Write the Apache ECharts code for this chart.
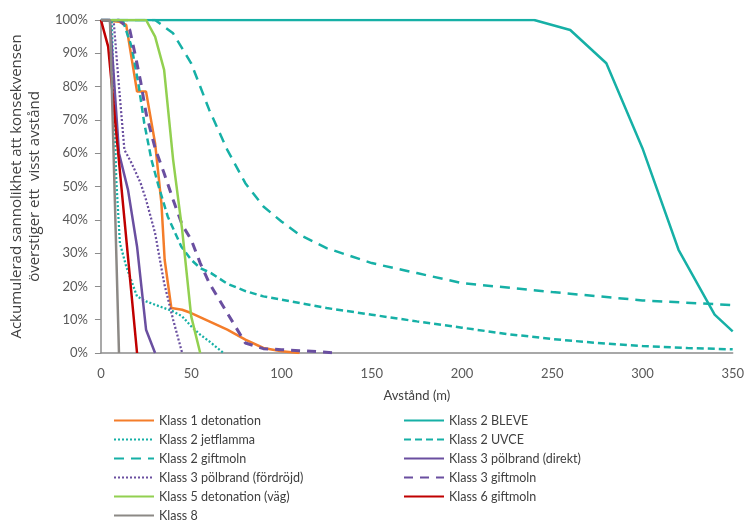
<!DOCTYPE html>
<html>
<head>
<meta charset="utf-8">
<script src="https://cdn.jsdelivr.net/npm/echarts@6/dist/echarts.min.js"></script>
<style>
  html, body { margin: 0; padding: 0; background: #fff; }
  #chart { width: 747px; height: 532px; }
</style>
</head>
<body>
<div id="chart"></div>
<script>
// distance (m), cumulative probability (%)
var klass1Detonation = [[0,100],[10,99.5],[14,98.5],[20,78.5],[25,78.5],[30,63],[33.5,45],[35.3,28],[39,13.5],[45,13],[50,12],[60,9.5],[70,7],[80,4],[90,1.5],[100,0.5],[110,0]];
var klass2Bleve = [[0,100],[240,100],[260,97],[280,87],[300,61.5],[320,31],[340,11.5],[350,6.5]];
var klass2Jetflamma = [[0,100],[6,100],[8.5,52],[10.5,33],[14,26],[20,17],[25,15.5],[30,14.5],[40,12.5],[45,11],[50,8],[55,5.5],[60,3.5],[68,0]];
var klass2Uvce = [[0,100],[12,100],[17,92],[21,80],[24,69],[28,58],[32,50],[37,41],[44.5,32],[50,28],[55,25.5],[61,24],[70,20.8],[80,18.6],[90,17],[100,16],[125,13.5],[150,11.5],[175,9.5],[200,7.6],[225,5.7],[250,4.2],[275,3],[300,2.1],[325,1.5],[350,1.1]];
var klass2Giftmoln = [[0,100],[30,100],[40,96],[50,87],[60,73],[70,61],[80,51],[90,44],[100,39.5],[110,35.5],[125,31.5],[150,27],[175,24],[200,21],[250,18.3],[300,15.8],[350,14.4]];
var klass3Direkt = [[0,100],[5,100],[10,60],[15,49],[20,32],[25,7],[30,0]];
var klass3Fordrojd = [[0,100],[7,100],[10,80],[13,61],[17,57],[22,51],[25,46],[30,36],[35,21],[40,10],[45,0]];
var klass3Giftmoln = [[0,100],[10,100],[16,97],[19,89.5],[22,81.5],[25,72],[30,61.5],[35,54],[40,46],[45,38.5],[50,34],[55,27],[60,21],[70,12],[80,3],[90,1.3],[100,1],[110,0.7],[120,0.4],[130,0]];
var klass5Detonation = [[0,100],[25,100],[30,95],[35,85],[40,58],[45,37],[50,11],[55,0]];
var klass6Giftmoln = [[0,100],[4,92],[20,0]];
var klass8 = [[0,100],[5,100],[10,0]];

var xTicks = { min: 0, max: 350, step: 50 };
var yTicks = { min: 0, max: 100, step: 10 };

var legendLeft = ['Klass 1 detonation', 'Klass 2 jetflamma', 'Klass 2 giftmoln', 'Klass 3 pölbrand (fördröjd)', 'Klass 5 detonation (väg)', 'Klass 8'];
var legendRight = ['Klass 2 BLEVE', 'Klass 2 UVCE', 'Klass 3 pölbrand (direkt)', 'Klass 3 giftmoln', 'Klass 6 giftmoln'];

var ORANGE = '#f47d2a', TEAL = '#16b0a6', PURPLE = '#6a4fa0', GREEN = '#92d050', RED = '#c00000', GREY = '#8c8985';
var FONT = 'Lato';

function line(name, data, color, type, width) {
  return {
    name: name,
    type: 'line',
    data: data,
    symbol: 'none',
    showSymbol: false,
    animation: false,
    lineStyle: { color: color, width: width || 2.5, type: type || 'solid' },
    itemStyle: { color: color }
  };
}

var legendCommon = {
  orient: 'vertical',
  top: 414,
  height: 140,
  padding: 0,
  itemWidth: 40,
  itemHeight: 14,
  itemGap: 6,
  itemStyle: { opacity: 0 },
  textStyle: { fontFamily: FONT, fontSize: 12.5, color: '#404040' },
  selectedMode: false
};

var chart = echarts.init(document.getElementById('chart'), null, { renderer: 'canvas' });
chart.setOption({
  backgroundColor: '#fff',
  animation: false,
  grid: { left: 99, right: 11, top: 20, bottom: 179, containLabel: false },
  legend: [
    Object.assign({ left: 113, data: legendLeft }, legendCommon),
    Object.assign({ left: 403, data: legendRight }, legendCommon)
  ],
  xAxis: {
    type: 'value',
    min: xTicks.min, max: xTicks.max, interval: xTicks.step,
    name: 'Avstånd (m)',
    nameLocation: 'middle',
    nameGap: 36,
    nameTextStyle: { fontFamily: FONT, fontSize: 13, color: '#404040', verticalAlign: 'top' },
    axisLine: { show: true, lineStyle: { color: '#8c8c8c', width: 1.5 } },
    axisTick: { show: false },
    splitLine: { show: false },
    axisLabel: { fontFamily: FONT, fontSize: 13, color: '#595959', margin: 14 }
  },
  yAxis: {
    type: 'value',
    min: yTicks.min, max: yTicks.max, interval: yTicks.step,
    name: 'Ackumulerad sannolikhet att konsekvensen\növerstiger ett  visst avstånd',
    nameLocation: 'middle',
    nameRotate: 90,
    nameGap: 55,
    nameTextStyle: { fontFamily: 'Open Sans', fontSize: 15, color: '#404040', lineHeight: 18, align: 'center' },
    axisLine: { show: true, lineStyle: { color: '#8c8c8c', width: 1.5 } },
    axisTick: { show: true, length: 6, lineStyle: { color: '#8c8c8c' } },
    splitLine: { show: false },
    axisLabel: { fontFamily: FONT, fontSize: 13, color: '#595959', margin: 13, formatter: '{value}%' }
  },
  series: [
    line('Klass 1 detonation', klass1Detonation, ORANGE),
    line('Klass 2 BLEVE', klass2Bleve, TEAL),
    line('Klass 2 jetflamma', klass2Jetflamma, TEAL, [2, 2], 2.25),
    line('Klass 2 UVCE', klass2Uvce, TEAL, [7, 4], 2.5),
    line('Klass 2 giftmoln', klass2Giftmoln, TEAL, [10, 7], 2.5),
    line('Klass 3 pölbrand (direkt)', klass3Direkt, PURPLE),
    line('Klass 3 pölbrand (fördröjd)', klass3Fordrojd, PURPLE, [2, 2], 2.25),
    line('Klass 3 giftmoln', klass3Giftmoln, PURPLE, [9, 7], 3),
    line('Klass 5 detonation (väg)', klass5Detonation, GREEN),
    line('Klass 6 giftmoln', klass6Giftmoln, RED),
    line('Klass 8', klass8, GREY)
  ]
});
</script>
</body>
</html>
